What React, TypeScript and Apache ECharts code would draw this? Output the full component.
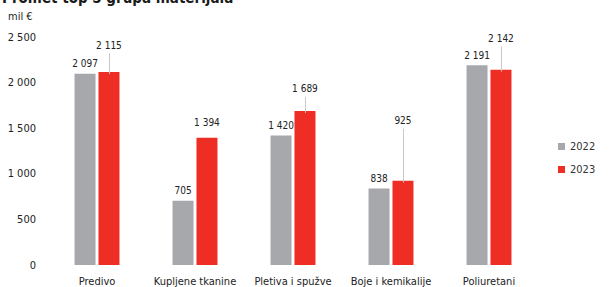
import React, { useEffect, useRef } from "react";
import * as echarts from "echarts";

const categories = ["Predivo", "Kupljene tkanine", "Pletiva i spužve", "Boje i kemikalije", "Poliuretani"];
const values2022 = [2097, 705, 1420, 838, 2191];
const values2023 = [2115, 1394, 1689, 925, 2142];
const seriesNames = ["2022", "2023"];
const yTicks = [0, 500, 1000, 1500, 2000, 2500];

// label lift (px) for the 2023 labels, with leader lines
const liftStyle2023 = [22, 10, 17, 55, 26];

const FONT = "'Liberation Sans Narrow', 'DejaVu Sans Condensed', 'Liberation Sans', sans-serif";
const GRAY = "#a7a8ab";
const RED = "#ee2e24";

const fmt = (v: number) => {
  const s = String(Math.round(v));
  return s.replace(/\B(?=(\d{3})+(?!\d))/g, " ");
};

export default function App() {
  const ref = useRef<HTMLDivElement>(null);
  useEffect(() => {
    if (!ref.current) return;
    const chart = echarts.init(ref.current, null, { renderer: "svg" });
    chart.setOption({
      animation: false,
      backgroundColor: "#ffffff",
      textStyle: { fontFamily: FONT },
      graphic: [
        {
          type: "text",
          left: 2,
          top: -10,
          style: { text: "Promet top 5 grupa materijala", font: `bold 15px ${FONT}`, fill: "#1a1a1a" },
        },
        {
          type: "text",
          left: 8,
          top: 11,
          style: { text: "mil €", font: `11px ${FONT}`, fill: "#222" },
        },
      ],
      legend: {
        orient: "vertical",
        left: 553,
        top: 136,
        itemWidth: 7,
        itemHeight: 7,
        itemGap: 12,
        icon: "rect",
        textStyle: { fontSize: 11, color: "#333", fontFamily: FONT },
        data: seriesNames,
      },
      grid: { left: 48, right: 75, top: 37, bottom: 22 },
      xAxis: {
        type: "category",
        data: categories,
        axisLine: { show: false },
        axisTick: { show: false },
        axisLabel: { fontSize: 11, color: "#222", margin: 11, fontFamily: FONT, interval: 0 },
      },
      yAxis: {
        type: "value",
        min: yTicks[0],
        max: yTicks[yTicks.length - 1],
        interval: 500,
        splitLine: { show: false },
        axisLine: { show: false },
        axisTick: { show: false },
        axisLabel: { fontSize: 11, color: "#222", margin: 12, fontFamily: FONT, formatter: (v: number) => fmt(v) },
      },
      series: [
        {
          name: seriesNames[0],
          type: "bar",
          data: values2022,
          barWidth: 21,
          barGap: "14%",
          itemStyle: { color: GRAY },
          label: {
            show: true,
            position: "top",
            distance: 5,
            fontSize: 10,
            color: "#222",
            fontFamily: FONT,
            formatter: (p: any) => fmt(p.value),
          },
          z: 2,
        },
        {
          name: seriesNames[1],
          type: "bar",
          data: values2023.map((v, i) => ({
            value: v,
            label: { distance: liftStyle2023[i] },
          })),
          barWidth: 21,
          itemStyle: { color: RED },
          label: {
            show: true,
            position: "top",
            fontSize: 10,
            color: "#222",
            fontFamily: FONT,
            formatter: (p: any) => fmt(p.value),
          },
          z: 2,
        },
        {
          type: "custom",
          name: "leader",
          data: values2023.map((v, i) => [i, v, liftStyle2023[i]]),
          silent: true,
          z: 3,
          renderItem: (params: any, api: any) => {
            const idx = api.value(0);
            const val = api.value(1);
            const lift = api.value(2);
            const base = api.coord([idx, val]);
            const x = base[0] + 21 * 0.57 + 0.5;
            if (lift < 14) return null;
            return {
              type: "line",
              shape: { x1: x, y1: base[1] - lift + 3, x2: x, y2: base[1] + 2 },
              style: { stroke: "#c8c8c8", lineWidth: 1 },
            };
          },
        },
      ],
    });
    return () => chart.dispose();
  }, []);
  return (
    <div
      ref={ref}
      style={{ position: "fixed", left: 0, top: 0, width: 613, height: 287 }}
    />
  );
}
